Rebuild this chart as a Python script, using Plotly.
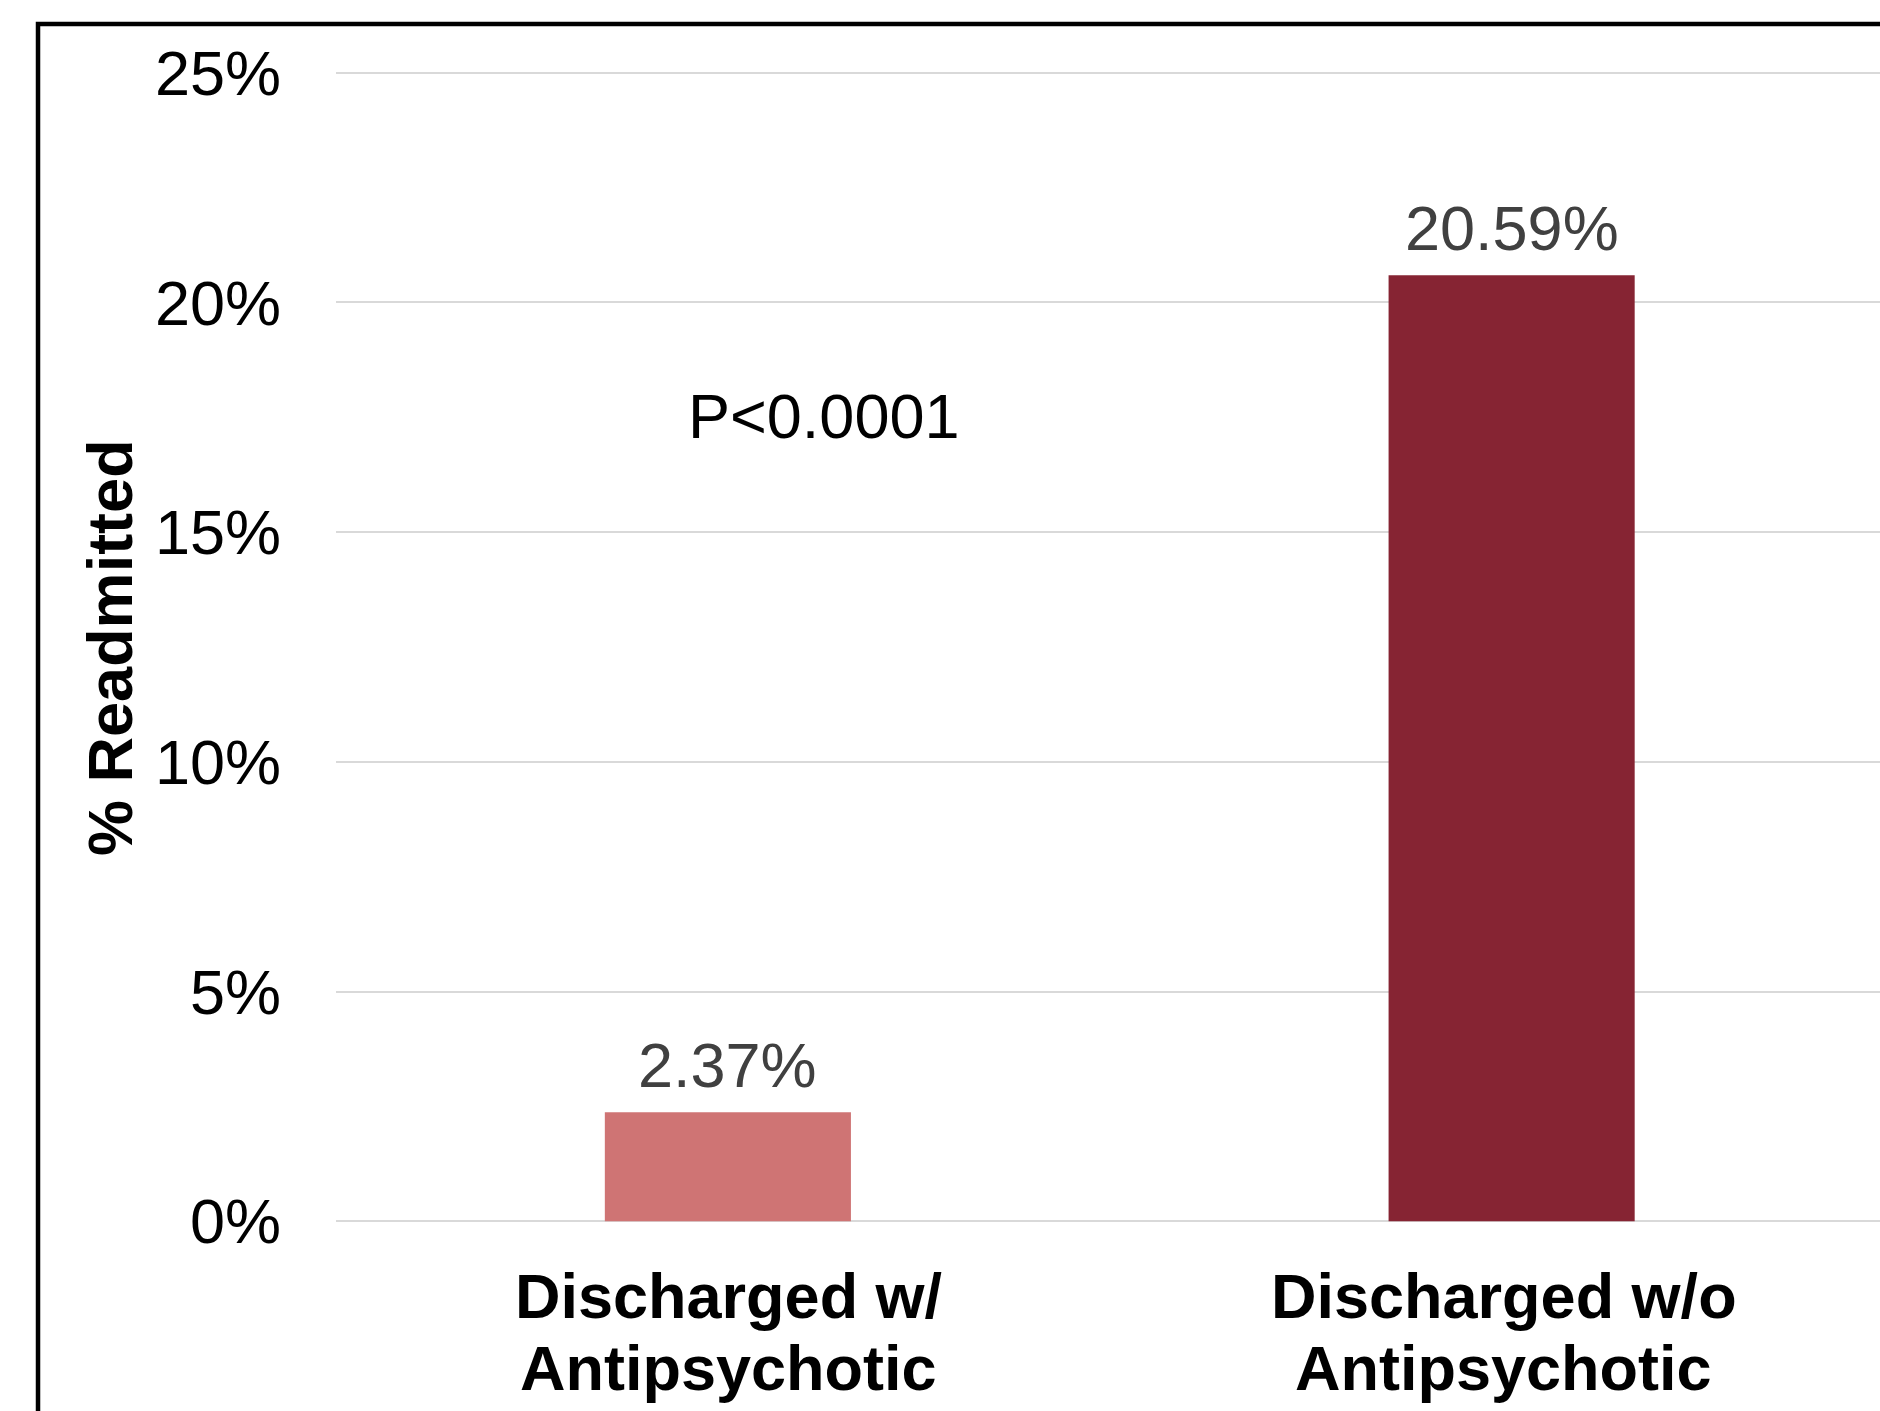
import plotly.graph_objects as go

# Readmission rates by discharge group
categories = ["Discharged w/ Antipsychotic", "Discharged w/o Antipsychotic"]
label_lines = [["Discharged w/", "Antipsychotic"], ["Discharged w/o", "Antipsychotic"]]
label_xshift = [1, -8]
readmit_pct = [2.37, 20.59]
bar_colors = ["#CF7474", "#862433"]
y_ticks = [0, 5, 10, 15, 20, 25]
y_tick_labels = ["0%", "5%", "10%", "15%", "20%", "25%"]
p_value_text = "P<0.0001"

FONT = "Liberation Sans, Arial, sans-serif"

fig = go.Figure(
    go.Bar(
        x=categories,
        y=readmit_pct,
        marker=dict(color=bar_colors, line=dict(width=0)),
        width=0.314,
        hoverinfo="skip",
    )
)

annotations = []

# value labels above the bars
for cat, v in zip(categories, readmit_pct):
    annotations.append(dict(
        x=cat, y=v, xref="x", yref="y",
        text=f"{v:.2f}%", showarrow=False,
        xanchor="center", yanchor="bottom", yshift=10,
        font=dict(family=FONT, size=63, color="#404040"),
    ))

# two-line bold category labels under the axis
for cat, lines, dx in zip(categories, label_lines, label_xshift):
    for yp, line in zip([-0.0519, -0.1131], lines):
        annotations.append(dict(
            x=cat, y=yp, xref="x", yref="paper",
            text=f"<b>{line}</b>", showarrow=False,
            xanchor="center", yanchor="middle", xshift=dx,
            font=dict(family=FONT, size=63, color="black"),
        ))

# significance note
annotations.append(dict(
    x=0.123, y=17.52, xref="x", yref="y",
    text=p_value_text, showarrow=False,
    xanchor="center", yanchor="middle",
    font=dict(family=FONT, size=63, color="black"),
))

# rotated axis title
annotations.append(dict(
    x=-0.1464, y=0.5, xref="paper", yref="paper",
    text="<b>% Readmitted</b>", showarrow=False, textangle=-90,
    xanchor="center", yanchor="middle",
    font=dict(family=FONT, size=63, color="black"),
))

fig.update_layout(
    width=1880, height=1411, autosize=False,
    margin=dict(l=336, r=0, t=59, b=176, pad=0),
    paper_bgcolor="white", plot_bgcolor="white",
    showlegend=False,
    annotations=annotations,
    shapes=[dict(
        type="rect", xref="paper", yref="paper",
        x0=-0.193, x1=1.2, y0=-0.3, y1=1.0298,
        line=dict(color="black", width=4.5), fillcolor="rgba(0,0,0,0)",
        layer="above",
    )],
    xaxis=dict(
        type="category", range=[-0.5, 1.47],
        showticklabels=False, showgrid=False, zeroline=False, showline=False,
        fixedrange=True,
    ),
    yaxis=dict(
        range=[-0.3, 25.3],
        tickvals=y_ticks, ticktext=y_tick_labels,
        tickfont=dict(family=FONT, size=63, color="black"),
        ticklabelstandoff=54,
        showgrid=True, gridcolor="#D9D9D9", gridwidth=2,
        zeroline=False, showline=False, ticks="",
        fixedrange=True,
    ),
)

fig.write_html("out.html")
